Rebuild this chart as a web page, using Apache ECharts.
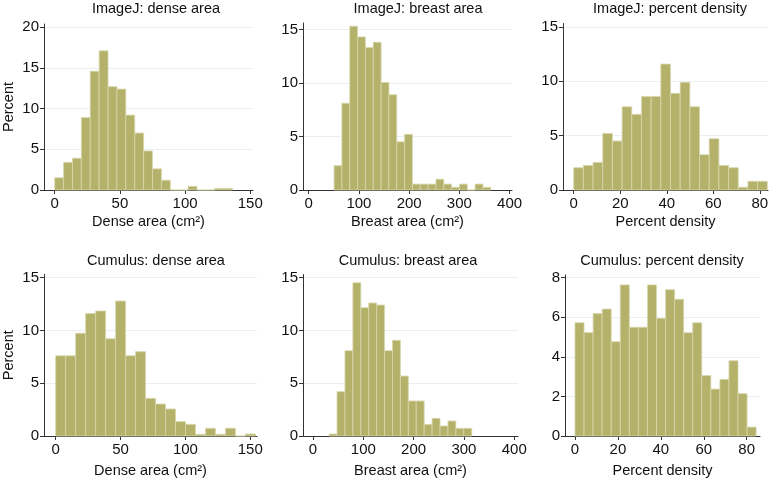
<!DOCTYPE html>
<html>
<head>
<meta charset="utf-8">
<script src="https://cdn.jsdelivr.net/npm/echarts@6/dist/echarts.min.js"></script>
<style>
  html, body { margin: 0; padding: 0; background: #fff; }
  #main { width: 774px; height: 484px; }
</style>
</head>
<body>
<div id="main"></div>
<script>
    // bin heights (percent)
    var imagejDense   = [1.5, 3.4, 3.9, 8.9, 14.6, 17.1, 12.7, 12.4, 9.2, 7.0, 4.8, 2.6, 1.2, 0, 0, 0.45, 0, 0, 0.2, 0.2];
    var imagejBreast  = [2.27, 8.1, 15.3, 14.3, 13.3, 13.8, 10.05, 8.9, 4.5, 5.2, 0.55, 0.55, 0.55, 1.0, 0.55, 0.25, 0.55, 0, 0.55, 0.25];
    var imagejPct     = [2.05, 2.26, 2.54, 5.2, 4.5, 7.65, 6.95, 8.6, 8.6, 11.57, 8.88, 9.89, 7.65, 3.24, 4.71, 2.26, 2.05, 0.25, 0.8, 0.8];
    var cumulusDense  = [7.6, 7.6, 9.73, 11.6, 11.84, 9.22, 12.79, 7.6, 7.99, 3.57, 3.03, 2.56, 1.36, 1.1, 0.16, 0.73, 0.16, 0.73, 0, 0.19];
    var cumulusBreast = [0.19, 4.2, 8.08, 14.52, 12.16, 12.6, 12.41, 8.08, 9.06, 5.68, 3.32, 3.32, 1.1, 1.67, 0.95, 1.42, 0.73, 0.73];
    var cumulusPct    = [5.72, 5.22, 6.18, 6.41, 4.76, 7.63, 5.49, 5.49, 7.63, 5.94, 7.39, 6.9, 5.22, 5.72, 3.05, 2.37, 2.86, 3.8, 2.14, 0.45];

    // first bin edge and bin width per panel
    var binStart = [0, 50.5, 0, 0, 32, 0];
    var binWidth = [6.82, 15.6, 4.16, 7.7, 15.75, 4.22];

    var titles = ['ImageJ: dense area', 'ImageJ: breast area', 'ImageJ: percent density',
                  'Cumulus: dense area', 'Cumulus: breast area', 'Cumulus: percent density'];
    var xNames = ['Dense area (cm²)', 'Breast area (cm²)', 'Percent density',
                  'Dense area (cm²)', 'Breast area (cm²)', 'Percent density'];
    var xTicks = [[0, 50, 100, 150], [0, 100, 200, 300, 400], [0, 20, 40, 60, 80],
                  [0, 50, 100, 150], [0, 100, 200, 300, 400], [0, 20, 40, 60, 80]];
    var yTicks = [[0, 5, 10, 15, 20], [0, 5, 10, 15], [0, 5, 10, 15],
                  [0, 5, 10, 15], [0, 5, 10, 15], [0, 2, 4, 6, 8]];

    var heights = [imagejDense, imagejBreast, imagejPct, cumulusDense, cumulusBreast, cumulusPct];

    // layout of the six plot regions
    var grids = [
        {left: 43,  top: 24,    width: 210, height: 166},
        {left: 303, top: 23,    width: 209, height: 167},
        {left: 563, top: 23.5,  width: 205, height: 166.5},
        {left: 43,  top: 274.5, width: 214, height: 161.5},
        {left: 303, top: 274.5, width: 215, height: 161.5},
        {left: 565, top: 275,   width: 195, height: 161}
    ];
    var xRange = [[-8.2, 152.1], [-11.4, 404.8], [-4.6, 83.5], [-9, 155.2], [-19.9, 407.5], [-4.66, 86.2]];
    var yRange = [20.4, 15.6, 15.3, 15.3, 15.3, 8.13];
    var yStep  = [5, 5, 5, 5, 5, 2];
    var titlePos = [[156, 1], [418, 1], [670, 1], [156, 253], [408, 253], [662, 253]];
    var nameGap = [24, 24, 24, 27, 27, 27];

    var font = 'Liberation Sans, Arial, Helvetica, sans-serif';
    var axisColor = '#333';
    var barColor = '#b4b26a';

    function renderBar(params, api) {
        var p0 = api.coord([api.value(0), api.value(2)]);
        var p1 = api.coord([api.value(1), 0]);
        return {
            type: 'rect',
            shape: {x: p0[0], y: p0[1], width: p1[0] - p0[0], height: p1[1] - p0[1]},
            style: {fill: barColor, stroke: '#d8d7ad', lineWidth: 0.8}
        };
    }

    var chart = echarts.init(document.getElementById('main'));
    var option = {
        animation: false,
        backgroundColor: '#fff',
        title: [], grid: [], xAxis: [], yAxis: [], series: []
    };

    for (var i = 0; i < 6; i++) {
        var data = [];
        for (var k = 0; k < heights[i].length; k++) {
            var x0 = binStart[i] + k * binWidth[i];
            data.push([x0, x0 + binWidth[i], heights[i][k]]);
        }
        option.title.push({
            text: titles[i],
            left: titlePos[i][0],
            top: titlePos[i][1],
            textAlign: 'center',
            padding: 0,
            textStyle: {fontFamily: font, fontSize: 14.5, fontWeight: 'normal', color: '#111'}
        });
        option.grid.push(grids[i]);
        option.xAxis.push({
            type: 'value',
            gridIndex: i,
            min: xRange[i][0],
            max: xRange[i][1],
            name: xNames[i],
            nameLocation: 'middle',
            nameGap: nameGap[i],
            nameTextStyle: {fontFamily: font, fontSize: 14.5, color: '#111'},
            axisLine: {onZero: false, lineStyle: {color: axisColor, width: 1}},
            axisTick: {customValues: xTicks[i], length: 4, lineStyle: {color: axisColor}},
            axisLabel: {customValues: xTicks[i], margin: 6, fontFamily: font, fontSize: 15, color: '#111'},
            splitLine: {show: false}
        });
        option.yAxis.push({
            type: 'value',
            gridIndex: i,
            min: 0,
            max: yRange[i],
            interval: yStep[i],
            name: (i % 3 === 0) ? 'Percent' : '',
            nameLocation: 'middle',
            nameGap: 28,
            nameTextStyle: {fontFamily: font, fontSize: 14.5, color: '#111'},
            axisLine: {show: true, onZero: false, lineStyle: {color: axisColor, width: 1}},
            axisTick: {show: true, customValues: yTicks[i], length: 4, lineStyle: {color: axisColor}},
            axisLabel: {customValues: yTicks[i], margin: 5, fontFamily: font, fontSize: 15, color: '#111'},
            splitLine: {show: true, lineStyle: {color: '#eaf0f2', width: 1}}
        });
        option.series.push({
            type: 'custom',
            xAxisIndex: i,
            yAxisIndex: i,
            renderItem: renderBar,
            encode: {x: [0, 1], y: 2},
            data: data
        });
    }

    chart.setOption(option);
</script>
</body>
</html>
